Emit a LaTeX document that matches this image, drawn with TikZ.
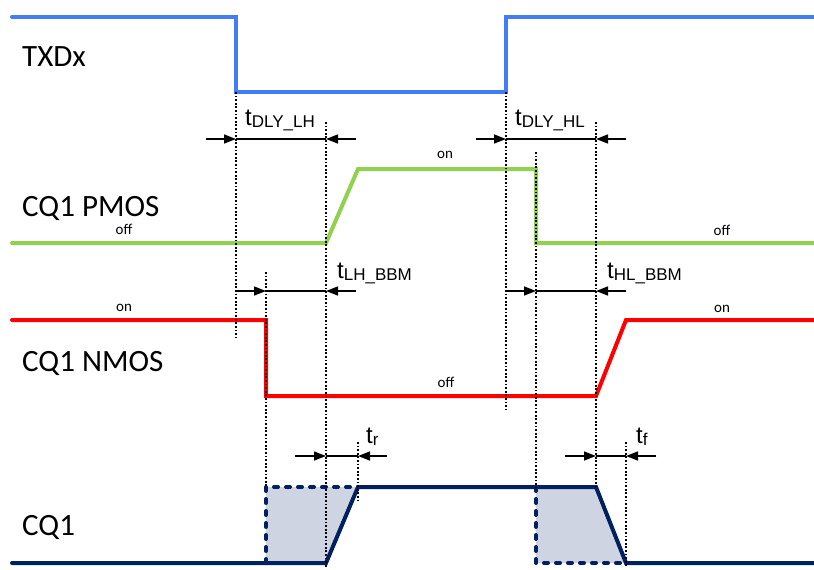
\documentclass[tikz,border=0pt]{standalone}
\usepackage{fontspec}
\setmainfont{Carlito}
\newfontfamily\arialf{Liberation Sans}
\usetikzlibrary{arrows.meta}
\definecolor{txblue}{RGB}{66,125,245}
\definecolor{pgreen}{RGB}{146,208,80}
\definecolor{nred}{RGB}{255,0,0}
\definecolor{cqnavy}{RGB}{0,32,96}
\definecolor{cqfill}{RGB}{206,212,226}
\tikzset{
  sig/.style={line width=4pt, line cap=round, line join=miter},
  guide/.style={black, line width=1.6pt, dash pattern=on 1.8pt off 1.8pt},
  dimline/.style={black, line width=1.4pt},
  dimtip/.style={black, line width=1.4pt, -{Triangle[length=12pt,width=9pt]}},
  edgedash/.style={cqnavy, line width=4pt, line cap=round, dash pattern=on 4pt off 8pt},
  biglabel/.style={anchor=base west, inner sep=0pt, font=\fontsize{31}{36}\selectfont},
  statelabel/.style={anchor=base, inner sep=0pt, font=\fontsize{15}{18}\selectfont},
  tlabel/.style={anchor=base west, inner sep=0pt, font=\arialf\fontsize{24}{28}\selectfont}
}
\newcommand{\tsub}[1]{\raisebox{-2pt}{\fontsize{17}{19}\selectfont #1}}
\begin{document}
\begin{tikzpicture}[x=1pt,y=-1pt]
\useasboundingbox (0,0) rectangle (814,570);

% shaded regions under CQ1
\fill[cqfill] (266,487) -- (358,487) -- (326,563) -- (266,563) -- cycle;
\fill[cqfill] (536,487) -- (596,487) -- (626,563) -- (536,563) -- cycle;
\draw[edgedash] (266,563) -- (266,487) -- (358,487);
\draw[edgedash] (536,487) -- (536,563) -- (626,563);

% signals
\draw[sig, txblue] (12,17) -- (236,17) -- (236,92) -- (506,92) -- (506,17) -- (814,17);
\draw[sig, pgreen] (12,243) -- (326,243) -- (358,169) -- (536,169) -- (536,243) -- (814,243);
\draw[sig, nred] (12,320) -- (266,320) -- (266,396) -- (596,396) -- (626,320) -- (814,320);
\draw[sig, cqnavy] (12,563) -- (326,563) -- (358,487) -- (596,487) -- (626,563) -- (814,563);

% guide lines
\draw[guide] (236,92) -- (236,337);
\draw[guide] (326,122) -- (326,567);
\draw[guide] (266,272) -- (266,487);
\draw[guide] (358,442) -- (358,503);
\draw[guide] (506,92) -- (506,410);
\draw[guide] (536,152) -- (536,487);
\draw[guide] (596,122) -- (596,487);
\draw[guide] (626,442) -- (626,567);

% signal names
\node[biglabel] (ltx) at (22,66) {TXDx};
\node[biglabel] (lpm) at (22,216) {CQ1 PMOS};
\node[biglabel] (lnm) at (22,371) {CQ1 NMOS};
\node[biglabel] (lcq) at (22,535) {CQ1};

% state labels
\node[statelabel] (s1) at (124,234) {off};
\node[statelabel] (s2) at (445,158) {on};
\node[statelabel] (s3) at (722,235) {off};
\node[statelabel] (s4) at (124,311) {on};
\node[statelabel] (s5) at (446,387) {off};
\node[statelabel] (s6) at (722,312) {on};

% dimension: tDLY_LH
\coordinate (a1) at (206,139); \coordinate (a2) at (236,139);
\coordinate (a3) at (326,139); \coordinate (a4) at (356,139);
\draw[dimtip] (a1) -- (a2); \draw[dimline] (a2) -- (a3); \draw[dimtip] (a4) -- (a3);
\node[tlabel] (tdlh) at (245,125) {t\tsub{DLY\_LH}};

% dimension: tDLY_HL
\coordinate (b1) at (476,139); \coordinate (b2) at (506,139);
\coordinate (b3) at (596,139); \coordinate (b4) at (626,139);
\draw[dimtip] (b1) -- (b2); \draw[dimline] (b2) -- (b3); \draw[dimtip] (b4) -- (b3);
\node[tlabel] (tdhl) at (515,125) {t\tsub{DLY\_HL}};

% dimension: tLH_BBM
\coordinate (c1) at (236,291); \coordinate (c2) at (266,291);
\coordinate (c3) at (326,291); \coordinate (c4) at (356,291);
\draw[dimtip] (c1) -- (c2); \draw[dimline] (c2) -- (c3); \draw[dimtip] (c4) -- (c3);
\node[tlabel] (tlhb) at (337,278) {t\tsub{LH\_BBM}};

% dimension: tHL_BBM
\coordinate (d1) at (506,291); \coordinate (d2) at (536,291);
\coordinate (d3) at (596,291); \coordinate (d4) at (626,291);
\draw[dimtip] (d1) -- (d2); \draw[dimline] (d2) -- (d3); \draw[dimtip] (d4) -- (d3);
\node[tlabel] (thlb) at (607,278) {t\tsub{HL\_BBM}};

% dimension: tr
\coordinate (e1) at (295,456); \coordinate (e2) at (326,456);
\coordinate (e3) at (358,456); \coordinate (e4) at (387,456);
\draw[dimtip] (e1) -- (e2); \draw[dimline] (e2) -- (e3); \draw[dimtip] (e4) -- (e3);
\node[tlabel] (ttr) at (366,443) {t\tsub{r}};

% dimension: tf
\coordinate (f1) at (565,456); \coordinate (f2) at (596,456);
\coordinate (f3) at (626,456); \coordinate (f4) at (656,456);
\draw[dimtip] (f1) -- (f2); \draw[dimline] (f2) -- (f3); \draw[dimtip] (f4) -- (f3);
\node[tlabel] (ttf) at (636,443) {t\tsub{f}};
\end{tikzpicture}
\end{document}
